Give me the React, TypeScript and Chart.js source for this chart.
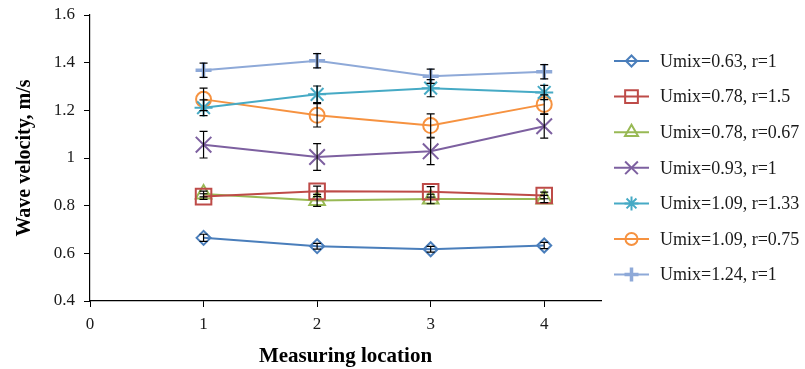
import React, { useEffect, useRef } from 'react';
import { Chart, registerables } from 'chart.js';
import { drawPoint } from 'chart.js/helpers';

Chart.register(...registerables);

const FONT = '"Liberation Serif", "Times New Roman", serif';

// Measuring locations (x)
const locations = [1, 2, 3, 4];

// Series names
const seriesNames = [
  'Umix=0.63, r=1',
  'Umix=0.78, r=1.5',
  'Umix=0.78, r=0.67',
  'Umix=0.93, r=1',
  'Umix=1.09, r=1.33',
  'Umix=1.09, r=0.75',
  'Umix=1.24, r=1',
];

// Wave velocity values (m/s)
const umix063r1 = [0.665, 0.63, 0.617, 0.633];
const umix078r15 = [0.838, 0.86, 0.858, 0.843];
const umix078r067 = [0.849, 0.822, 0.828, 0.828];
const umix093r1 = [1.056, 1.004, 1.028, 1.133];
const umix109r133 = [1.211, 1.267, 1.293, 1.275];
const umix109r075 = [1.246, 1.179, 1.136, 1.225];
const umix124r1 = [1.368, 1.408, 1.343, 1.362];

// Error bar half-heights (m/s)
const err063r1 = [0.015, 0.012, 0.012, 0.013];
const err078r15 = [0.012, 0.022, 0.022, 0.014];
const err078r067 = [0.012, 0.025, 0.02, 0.015];
const err093r1 = [0.056, 0.056, 0.056, 0.05];
const err109r133 = [0.033, 0.035, 0.036, 0.03];
const err109r075 = [0.047, 0.049, 0.049, 0.04];
const err124r1 = [0.03, 0.03, 0.03, 0.03];

// Axis ticks
const yTickValues = [0.4, 0.6, 0.8, 1.0, 1.2, 1.4, 1.6];
const xTickValues = [0, 1, 2, 3, 4];

const seriesValues = [umix063r1, umix078r15, umix078r067, umix093r1, umix109r133, umix109r075, umix124r1];
const seriesErrors = [err063r1, err078r15, err078r067, err093r1, err109r133, err109r075, err124r1];

const styles = [
  { color: '#4A7EBB', pointStyle: 'rectRot', radius: 7, legendRadius: 5.5, pbw: 2 },
  { color: '#BE4B48', pointStyle: 'rect', radius: 11, legendRadius: 9, pbw: 2 },
  { color: '#98B954', pointStyle: 'triangle', radius: 9, legendRadius: 7.5, pbw: 2 },
  { color: '#7D60A0', pointStyle: 'crossRot', radius: 11, legendRadius: 9, pbw: 2 },
  { color: '#46AAC5', pointStyle: 'star', radius: 9, legendRadius: 7, pbw: 2 },
  { color: '#F69240', pointStyle: 'circle', radius: 7.5, legendRadius: 6, pbw: 2 },
  { color: '#8EA9D8', pointStyle: 'cross', radius: 8, legendRadius: 7, pbw: 3.5 },
];

const errorBarPlugin = {
  id: 'errorBars',
  afterDatasetsDraw(chart: any) {
    const { ctx } = chart;
    const xs = chart.scales.x;
    const ys = chart.scales.y;
    ctx.save();
    ctx.strokeStyle = '#000';
    ctx.lineWidth = 1.2;
    seriesValues.forEach((vals, i) => {
      vals.forEach((v, j) => {
        const e = seriesErrors[i][j];
        const px = xs.getPixelForValue(locations[j]);
        const top = ys.getPixelForValue(v + e);
        const bot = ys.getPixelForValue(v - e);
        ctx.beginPath();
        ctx.moveTo(px, top);
        ctx.lineTo(px, bot);
        ctx.moveTo(px - 4, top);
        ctx.lineTo(px + 4, top);
        ctx.moveTo(px - 4, bot);
        ctx.lineTo(px + 4, bot);
        ctx.stroke();
      });
    });
    ctx.restore();
  },
};

const legendPlugin = {
  id: 'customLegend',
  afterDraw(chart: any) {
    const { ctx, chartArea } = chart;
    const x0 = chartArea.right + 13;
    const lineLen = 35;
    const textX = chartArea.right + 59;
    ctx.save();
    seriesNames.forEach((name, i) => {
      const st = styles[i];
      const cy = chartArea.top + 46 + i * 35.6;
      ctx.strokeStyle = st.color;
      ctx.lineWidth = 2;
      ctx.beginPath();
      ctx.moveTo(x0, cy);
      ctx.lineTo(x0 + lineLen, cy);
      ctx.stroke();
      ctx.fillStyle = 'rgba(0,0,0,0)';
      ctx.lineWidth = st.pbw;
      drawPoint(ctx, { pointStyle: st.pointStyle, radius: st.legendRadius, rotation: 0, borderWidth: st.pbw } as any, x0 + lineLen / 2, cy);
      ctx.fillStyle = '#1a1a1a';
      ctx.font = `18px ${FONT}`;
      ctx.textAlign = 'left';
      ctx.textBaseline = 'middle';
      ctx.fillText(name, textX, cy + 1);
    });
    ctx.restore();
  },
};

export default function App() {
  const canvasRef = useRef<HTMLCanvasElement | null>(null);

  useEffect(() => {
    document.body.style.margin = '0';
    const canvas = canvasRef.current;
    if (!canvas) return;
    const datasets = seriesNames.map((name, i) => ({
      label: name,
      data: seriesValues[i].map((v, j) => ({ x: locations[j], y: v })),
      borderColor: styles[i].color,
      backgroundColor: 'rgba(0,0,0,0)',
      borderWidth: 2,
      pointStyle: styles[i].pointStyle,
      pointRadius: styles[i].radius,
      pointBorderWidth: styles[i].pbw,
      pointBorderColor: styles[i].color,
      pointBackgroundColor: 'rgba(0,0,0,0)',
      tension: 0,
      fill: false,
    }));

    const chart = new Chart(canvas, {
      type: 'line',
      data: { datasets },
      plugins: [errorBarPlugin, legendPlugin],
      options: {
        animation: false,
        responsive: false,
        maintainAspectRatio: false,
        layout: { padding: { top: 15, right: 204, bottom: 0, left: 0 } },
        plugins: {
          legend: { display: false },
          tooltip: { enabled: false },
        },
        scales: {
          x: {
            type: 'linear',
            min: 0,
            max: 4.5,
            afterBuildTicks: (s: any) => {
              s.ticks = xTickValues.map((v) => ({ value: v }));
            },
            afterFit: (s: any) => {
              s.height = 68;
              s.paddingLeft = 0;
              s.paddingRight = 0;
            },
            ticks: {
              font: { family: FONT, size: 17 },
              color: '#1a1a1a',
              padding: 7,
              maxRotation: 0,
              callback: (v: any) => String(v),
            },
            grid: {
              drawOnChartArea: false,
              drawTicks: true,
              tickLength: 6,
              color: '#000',
              lineWidth: 1,
            },
            border: { display: true, color: '#000', width: 1.2 },
            title: {
              display: true,
              text: 'Measuring location',
              font: { family: FONT, size: 21, weight: 'bold' },
              color: '#000',
              padding: { top: 0, bottom: 0 },
            },
          },
          y: {
            type: 'linear',
            min: 0.4,
            max: 1.6,
            afterBuildTicks: (s: any) => {
              s.ticks = yTickValues.map((v) => ({ value: v }));
            },
            afterFit: (s: any) => {
              s.width = 90;
              s.paddingTop = 0;
              s.paddingBottom = 0;
            },
            ticks: {
              font: { family: FONT, size: 17 },
              color: '#1a1a1a',
              padding: 9,
              callback: (v: any) => String(Number(Number(v).toFixed(1))),
            },
            grid: {
              drawOnChartArea: false,
              drawTicks: true,
              tickLength: 6,
              color: '#000',
              lineWidth: 1,
            },
            border: { display: true, color: '#000', width: 1.2 },
            title: {
              display: true,
              text: 'Wave velocity, m/s',
              font: { family: FONT, size: 20, weight: 'bold' },
              color: '#000',
              padding: { top: 13, bottom: 0 },
            },
          },
        },
      } as any,
    });
    return () => chart.destroy();
  }, []);

  return (
    <div style={{ width: 805, height: 369 }}>
      <canvas ref={canvasRef} width={805} height={369} style={{ display: 'block', width: 805, height: 369 }} />
    </div>
  );
}
